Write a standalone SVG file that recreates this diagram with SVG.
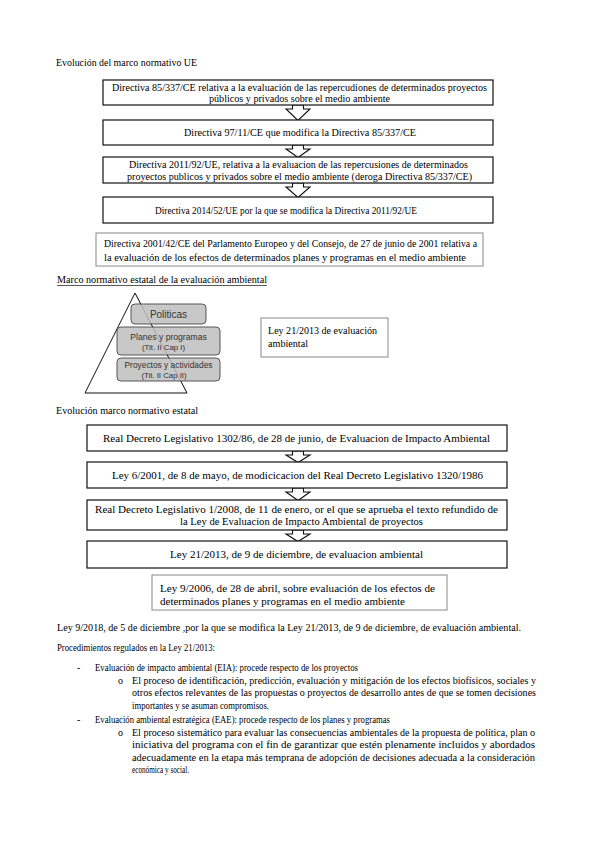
<svg xmlns="http://www.w3.org/2000/svg" width="599" height="848" viewBox="0 0 599 848">
<style>
text{font-family:"Liberation Serif","Times New Roman",serif;fill:#000}
.t{font-size:10px}
.b{font-size:9.8px}
.m{font-size:10.4px}
.p{font-size:10px}
.box{fill:#fff;stroke:#111;stroke-width:1.2}
.gbox{fill:#fff;stroke:#888;stroke-width:1}
.arr{fill:#fff;stroke:#111;stroke-width:1.1;stroke-linejoin:miter}
.rr{fill:#c8c8c8;stroke:#555;stroke-width:1}
.s{font-family:"Liberation Sans",Arial,sans-serif;fill:#333;text-anchor:middle}
</style>
<rect width="599" height="848" fill="#fff"/>

<text class="t" x="56" y="66" textLength="141" lengthAdjust="spacingAndGlyphs">Evolución del marco normativo UE</text>

<g id="connectors">
<polygon class="arr" points="292.5,105 292.5,109 286,109 298,120.5 310,109 303.5,109 303.5,105"/>
<polygon class="arr" points="292.5,145 292.5,149 286,149 298,157.5 310,149 303.5,149 303.5,145"/>
<polygon class="arr" points="292.5,183 292.5,187 286,187 298,197.5 310,187 303.5,187 303.5,183"/>
<polygon class="arr" points="292.5,451 292.5,455 286,455 298,462.5 310,455 303.5,455 303.5,451"/>
<polygon class="arr" points="292.5,488 292.5,492 286,492 298,500.5 310,492 303.5,492 303.5,488"/>
<polygon class="arr" points="292.5,530 292.5,534 286,534 298,541.5 310,534 303.5,534 303.5,530"/>
</g>

<g id="ue1">
<rect class="box" x="103" y="80" width="390" height="25"/>
<text class="b" x="112" y="91" textLength="375" lengthAdjust="spacingAndGlyphs">Directiva 85/337/CE relativa a la evaluación de las repercudiones de determinados proyectos</text>
<text class="b" x="209" y="102" textLength="181" lengthAdjust="spacingAndGlyphs">públicos y privados sobre el medio ambiente</text>
</g>
<g id="ue2">
<rect class="box" x="103" y="120" width="390" height="25"/>
<text class="b" x="184" y="135.5" font-size="10.2" textLength="232" lengthAdjust="spacingAndGlyphs">Directiva 97/11/CE que modifica la Directiva 85/337/CE</text>
</g>
<g id="ue3">
<rect class="box" x="103" y="157" width="390" height="26"/>
<text class="b" x="129" y="168" font-size="9.5" textLength="339" lengthAdjust="spacingAndGlyphs">Directiva 2011/92/UE, relativa a la evaluacion de las repercusiones de determinados</text>
<text class="b" x="127" y="180" font-size="9.5" textLength="345" lengthAdjust="spacingAndGlyphs">proyectos publicos y privados sobre el medio ambiente (deroga Directiva 85/337/CE)</text>
</g>
<g id="ue4">
<rect class="box" x="103" y="197" width="390" height="26"/>
<text class="b" x="155" y="213.5" font-size="9.4" textLength="262" lengthAdjust="spacingAndGlyphs">Directiva 2014/52/UE por la que se modifica la Directiva 2011/92/UE</text>
</g>
<g id="ue5">
<rect class="gbox" x="96" y="233" width="387" height="33"/>
<text class="b" x="104" y="247" font-size="10.3" textLength="373" lengthAdjust="spacingAndGlyphs">Directiva 2001/42/CE del Parlamento Europeo y del Consejo, de 27 de junio de 2001 relativa a</text>
<text class="b" x="104" y="261" font-size="10.3" textLength="362" lengthAdjust="spacingAndGlyphs">la evaluación de los efectos de determinados planes y programas en el medio ambiente</text>
</g>

<text class="t" x="57" y="283" textLength="210" lengthAdjust="spacingAndGlyphs">Marco normativo estatal de la evaluación ambiental</text>
<line x1="57" y1="285.5" x2="267" y2="285.5" stroke="#111" stroke-width="0.7"/>

<g id="pyramid">
<polygon points="135,293 85,393 187,393" fill="#fff" stroke="#111" stroke-width="1"/>
</g>
<g id="politicas">
<rect class="rr" x="131" y="304" width="75" height="20" rx="4"/>
<text class="s" x="168.5" y="317.5" font-size="10">Politicas</text>
</g>
<g id="planes">
<rect class="rr" x="117" y="327" width="103" height="28" rx="4"/>
<text class="s" x="168.5" y="339.5" font-size="8.6">Planes y programas</text>
<text class="s" x="163.5" y="350" font-size="7.8">(Tit. II Cap I)</text>
</g>
<g id="proyectos">
<rect class="rr" x="117" y="358" width="103" height="23" rx="4"/>
<text class="s" x="168.5" y="367.5" font-size="8.4">Proyectos y actividades</text>
<text class="s" x="164" y="377.5" font-size="7.8">(Tit. II Cap II)</text>
</g>
<line x1="135" y1="293" x2="187" y2="393" stroke="#111" stroke-width="0.6" opacity="0.3"/>

<g id="ley2013">
<rect class="gbox" x="261" y="318" width="127" height="39"/>
<text class="b" x="268" y="334" font-size="10.3" textLength="109" lengthAdjust="spacingAndGlyphs">Ley 21/2013 de evaluación</text>
<text class="b" x="268" y="347" font-size="10.3" textLength="40" lengthAdjust="spacingAndGlyphs">ambiental</text>
</g>

<text class="t" x="56" y="414" textLength="142" lengthAdjust="spacingAndGlyphs">Evolución marco normativo estatal</text>

<g id="es1">
<rect class="box" x="87" y="425" width="420" height="26"/>
<text class="m" x="103" y="441.5" textLength="387" lengthAdjust="spacingAndGlyphs">Real Decreto Legislativo 1302/86, de 28 de junio, de Evaluacion de Impacto Ambiental</text>
</g>
<g id="es2">
<rect class="box" x="87" y="462" width="420" height="26"/>
<text class="m" x="112" y="478.5" textLength="371" lengthAdjust="spacingAndGlyphs">Ley 6/2001, de 8 de mayo, de modicicacion del Real Decreto Legislativo 1320/1986</text>
</g>
<g id="es3">
<rect class="box" x="87" y="500" width="420" height="30"/>
<text class="m" x="95" y="512.5" textLength="403" lengthAdjust="spacingAndGlyphs">Real Decreto Legislativo 1/2008, de 11 de enero, or el que se aprueba el texto refundido de</text>
<text class="m" x="180" y="524.5" textLength="243" lengthAdjust="spacingAndGlyphs">la Ley de Evaluacion de Impacto Ambiental de proyectos</text>
</g>
<g id="es4">
<rect class="box" x="87" y="541" width="420" height="27"/>
<text class="m" x="170" y="558" textLength="253" lengthAdjust="spacingAndGlyphs">Ley 21/2013, de 9 de diciembre, de evaluacion ambiental</text>
</g>
<g id="es5">
<rect class="gbox" x="152" y="575" width="295" height="35"/>
<text class="m" x="160" y="591.5" textLength="275" lengthAdjust="spacingAndGlyphs">Ley 9/2006, de 28 de abril, sobre evaluación de los efectos de</text>
<text class="m" x="160" y="605" textLength="245" lengthAdjust="spacingAndGlyphs">determinados planes y programas en el medio ambiente</text>
</g>

<text class="p" x="57" y="631" textLength="464" lengthAdjust="spacingAndGlyphs">Ley 9/2018, de 5 de diciembre ,por la que se modifica la Ley 21/2013, de 9 de diciembre, de evaluación ambiental.</text>
<text class="p" x="57" y="651" textLength="158" lengthAdjust="spacingAndGlyphs">Procedimientos regulados en la Ley 21/2013:</text>

<text class="p" x="77" y="671">-</text>
<text class="p" x="95" y="671" textLength="263" lengthAdjust="spacingAndGlyphs">Evaluación de impacto ambiental (EIA): procede respecto de los proyectos</text>
<text class="p" x="118" y="683.5">o</text>
<text class="p" x="132" y="683.5" textLength="404" lengthAdjust="spacingAndGlyphs">El proceso de identificación, predicción, evaluación y mitigación de los efectos biofísicos, sociales y</text>
<text class="p" x="132" y="696" textLength="404" lengthAdjust="spacingAndGlyphs">otros efectos relevantes de las propuestas o proyectos de desarrollo antes de que se tomen decisiones</text>
<text class="p" x="132" y="708.5" textLength="137" lengthAdjust="spacingAndGlyphs">importantes y se asuman compromisos.</text>

<text class="p" x="77" y="723">-</text>
<text class="p" x="95" y="723" textLength="295" lengthAdjust="spacingAndGlyphs">Evaluación ambiental estratégica (EAE): procede respecto de los planes y programas</text>
<text class="p" x="118" y="735.5">o</text>
<text class="p" x="132" y="735.5" textLength="403" lengthAdjust="spacingAndGlyphs">El proceso sistemático para evaluar las consecuencias ambientales de la propuesta de política, plan o</text>
<text class="p" x="132" y="748" textLength="403" lengthAdjust="spacingAndGlyphs">iniciativa del programa con el fin de garantizar que estén plenamente incluidos y abordados</text>
<text class="p" x="132" y="760.5" textLength="403" lengthAdjust="spacingAndGlyphs">adecuadamente en la etapa más temprana de adopción de decisiones adecuada a la consideración</text>
<text class="p" x="132" y="773" textLength="57" lengthAdjust="spacingAndGlyphs">económica y social.</text>
</svg>
